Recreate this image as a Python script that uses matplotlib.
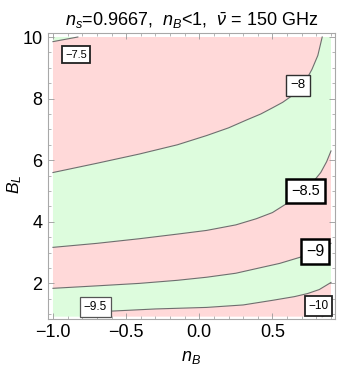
import matplotlib
matplotlib.use("Agg")
import matplotlib.pyplot as plt
from matplotlib.ticker import MultipleLocator

plt.rcParams['font.family'] = ['Liberation Sans', 'DejaVu Sans']
plt.rcParams['mathtext.fontset'] = 'custom'
plt.rcParams['mathtext.rm'] = 'Liberation Sans'
plt.rcParams['mathtext.it'] = 'Liberation Sans:italic'

# ---- data ----
x_range = [-1.0, 0.9]
y_range = [0.92, 10.0]
levels = [-7.5, -8.0, -8.5, -9.0, -9.5, -10.0]
level_labels = ["\u22127.5", "\u22128", "\u22128.5", "\u22129", "\u22129.5", "\u221210"]

c75_x = [-1.0, -0.83]
c75_y = [9.85, 10.0]
c80_x = [-1.0, -0.7, -0.41, -0.15, 0.05, 0.2, 0.32, 0.42, 0.5, 0.57, 0.63, 0.68, 0.73, 0.77, 0.81, 0.84]
c80_y = [5.6, 5.9, 6.2, 6.5, 6.8, 7.05, 7.3, 7.5, 7.7, 7.88, 8.08, 8.3, 8.6, 8.95, 9.4, 10.0]
c85_x = [-1.0, -0.7, -0.41, -0.15, 0.05, 0.25, 0.39, 0.5, 0.6, 0.7, 0.77, 0.83, 0.87, 0.9]
c85_y = [3.17, 3.3, 3.45, 3.6, 3.72, 3.9, 4.1, 4.3, 4.6, 4.95, 5.25, 5.6, 5.95, 6.3]
c90_x = [-1.0, -0.7, -0.41, -0.15, 0.05, 0.25, 0.39, 0.55, 0.69, 0.8, 0.9]
c90_y = [1.84, 1.92, 2.0, 2.1, 2.2, 2.33, 2.48, 2.65, 2.85, 3.05, 3.3]
c95_x = [-0.72, -0.6, -0.3, 0.05, 0.3, 0.5, 0.65, 0.74, 0.82, 0.9]
c95_y = [0.92, 1.1, 1.17, 1.22, 1.3, 1.45, 1.57, 1.67, 1.8, 2.03]
c100_x = [0.84, 0.9]
c100_y = [0.92, 1.05]

curves_x = [c75_x, c80_x, c85_x, c90_x, c95_x, c100_x]
curves_y = [c75_y, c80_y, c85_y, c90_y, c95_y, c100_y]

# ---- layout / style ----
label_pos = [(-0.843, 9.42), (0.675, 8.43), (0.726, 5.0), (0.79, 3.04), (-0.71, 1.24), (0.815, 1.27)]
label_fs = [8.0, 9.5, 10.5, 11.5, 8.5, 8.5]
label_lw = [1.3, 1.0, 1.8, 1.8, 0.9, 1.3]
label_ec = ['#202020', '#303030', '#000000', '#000000', '#555555', '#202020']
PINK = '#ffd9d9'
GREEN = '#ddfcdd'

X0, X1 = x_range
Y0, Y1 = y_range
W, H = X1 - X0, Y1 - Y0
PER = 2 * W + 2 * H
corners = [(W, (X1, Y0)), (W + H, (X1, Y1)), (2 * W + H, (X0, Y1)), (PER, (X0, Y0))]


def bparam(p):
    x, y = p
    if abs(y - Y0) < 1e-9 and x < X1 - 1e-9:
        return x - X0
    if abs(x - X1) < 1e-9 and y < Y1 - 1e-9:
        return W + (y - Y0)
    if abs(y - Y1) < 1e-9 and x > X0 + 1e-9:
        return W + H + (X1 - x)
    return 2 * W + H + (Y1 - y)


def walk(pa, pb):
    """corners met walking counter-clockwise from pa to pb along the frame"""
    sa, sb = bparam(pa), bparam(pb)
    if sb <= sa:
        sb += PER
    out = []
    for k in range(2):
        for s, c in corners:
            ss = s + k * PER
            if sa < ss < sb:
                out.append(c)
    return out


def pts(i):
    return list(zip(curves_x[i], curves_y[i]))


bands = []
a = pts(0)
bands.append(a + walk(a[-1], a[0]))
for i in range(len(levels) - 1):
    up, lo = pts(i), pts(i + 1)
    poly = lo + walk(lo[-1], up[-1]) + up[::-1] + walk(up[0], lo[0])
    bands.append(poly)
b = pts(len(levels) - 1)
bands.append(b[::-1] + walk(b[0], b[-1]))

fig = plt.figure(figsize=(3.37, 3.65), dpi=100)
ax = fig.add_axes([48 / 337, 1 - 318.5 / 365, (334.5 - 48) / 337, (318.5 - 33) / 365])

for k, poly in enumerate(bands):
    xs = [p[0] for p in poly]
    ys = [p[1] for p in poly]
    ax.fill(xs, ys, color=GREEN if k % 2 == 0 else PINK, lw=0, zorder=1)

for cx, cy in zip(curves_x, curves_y):
    ax.plot(cx, cy, color='#6e6e6e', lw=0.8, zorder=2)

for txt, (lx, ly), fs, lw, ec in zip(level_labels, label_pos, label_fs, label_lw, label_ec):
    ax.text(lx, ly, txt, fontsize=fs, ha='center', va='center', zorder=5,
            bbox=dict(boxstyle='square,pad=0.32', fc='white', ec=ec, lw=lw))

ax.set_xlim(-1.034, 0.924)
ax.set_ylim(0.86, 10.13)
ax.xaxis.set_minor_locator(MultipleLocator(0.1))
ax.yaxis.set_minor_locator(MultipleLocator(0.5))
ax.set_xticks([-1.0, -0.5, 0.0, 0.5])
ax.set_xticklabels(["\u22121.0", "\u22120.5", "0.0", "0.5"])
ax.set_yticks([2, 4, 6, 8, 10])
ax.tick_params(which='both', direction='in', top=True, right=True, color='#999999', labelsize=13, pad=4)
ax.tick_params(which='major', length=4, width=0.6)
ax.tick_params(which='minor', length=2, width=0.5)
for s in ax.spines.values():
    s.set_color('#a8a8a8')
    s.set_linewidth(0.8)

ax.set_xlabel(r"$n_B$", fontsize=13, labelpad=6)
ax.set_ylabel(r"$B_L$", fontsize=12.5, va='center')
ax.yaxis.set_label_coords(-0.115, 0.47)
ax.set_title(r"$n_s$=0.9667,  $n_B$<1,  $\bar{\nu}$ = 150 GHz", fontsize=13, pad=5)

fig.savefig("out.png", dpi=100)
